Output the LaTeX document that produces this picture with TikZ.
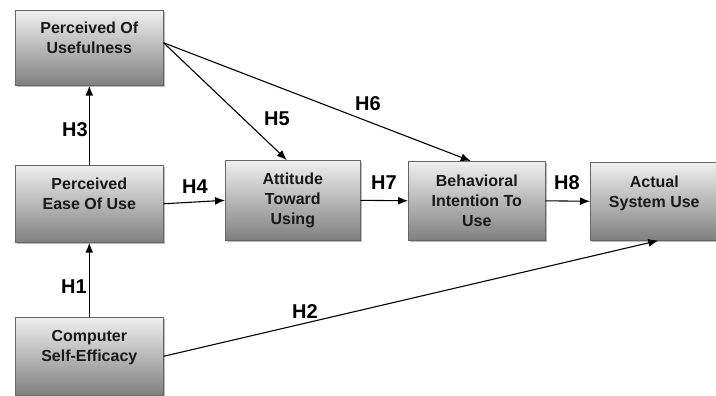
\documentclass[tikz,border=0pt]{standalone}
\usepackage{fontspec}
\setmainfont{Liberation Sans}
\usetikzlibrary{arrows.meta,shadows}
\begin{document}
\begin{tikzpicture}[x=1pt,y=-1pt,
  box/.style={draw=black!60, line width=0.6pt, top color=black!6, bottom color=black!50,
    drop shadow={shadow xshift=2pt, shadow yshift=-2pt, fill=black!45, opacity=0.6},
    align=center, font=\bfseries\fontsize{16}{20}\selectfont, text=black!90,
    inner sep=0pt, anchor=north west},
  hl/.style={font=\bfseries\fontsize{20}{22}\selectfont},
  arr/.style={-{Latex[length=10pt,width=8pt]}, line width=1.1pt},
  arrv/.style={-{Latex[length=10pt,width=8pt]}, line width=1.6pt}]
\useasboundingbox (0,0) rectangle (716,396);
\node[box, minimum width=148pt, minimum height=75pt] (pu) at (15,10) {Perceived Of\\Usefulness\\\mbox{}};
\node[box, minimum width=148pt, minimum height=77pt] (peou) at (15,165) {Perceived\\Ease Of Use\\\mbox{}};
\node[box, minimum width=135pt, minimum height=80pt] (atu) at (225,160) {Attitude\\Toward\\Using};
\node[box, minimum width=137pt, minimum height=79pt] (bi) at (408,161) {Behavioral\\Intention To\\Use};
\node[box, minimum width=128pt, minimum height=78pt] (asu) at (590,162) {Actual\\System Use\\\mbox{}};
\node[box, minimum width=148pt, minimum height=78pt] (cse) at (15,317) {Computer\\Self-Efficacy\\\mbox{}};

\coordinate (puout) at ([yshift=5pt]pu.east);
\draw[arrv] (peou.north) -- (pu.south);
\draw[arrv] (cse.north) -- (peou.south);
\draw[arr] (peou.east) -- (atu.west);
\draw[arr] (atu.east) -- (bi.west);
\draw[arr] (bi.east) -- (asu.west);
\draw[arr] (puout) -- ([xshift=-6pt]atu.north);
\draw[arr] (puout) -- ([xshift=-6pt]bi.north);
\draw[arr] (cse.east) -- ([xshift=4pt]asu.south);

\node[hl] (h3) at (75,130) {H3};
\node[hl] (h1) at (74,287) {H1};
\node[hl] (h4) at (195,187) {H4};
\node[hl] (h5) at (277,119) {H5};
\node[hl] (h6) at (368,104) {H6};
\node[hl] (h7) at (384,183) {H7};
\node[hl] (h8) at (567,183) {H8};
\node[hl] (h2) at (305,312) {H2};
\end{tikzpicture}
\end{document}
